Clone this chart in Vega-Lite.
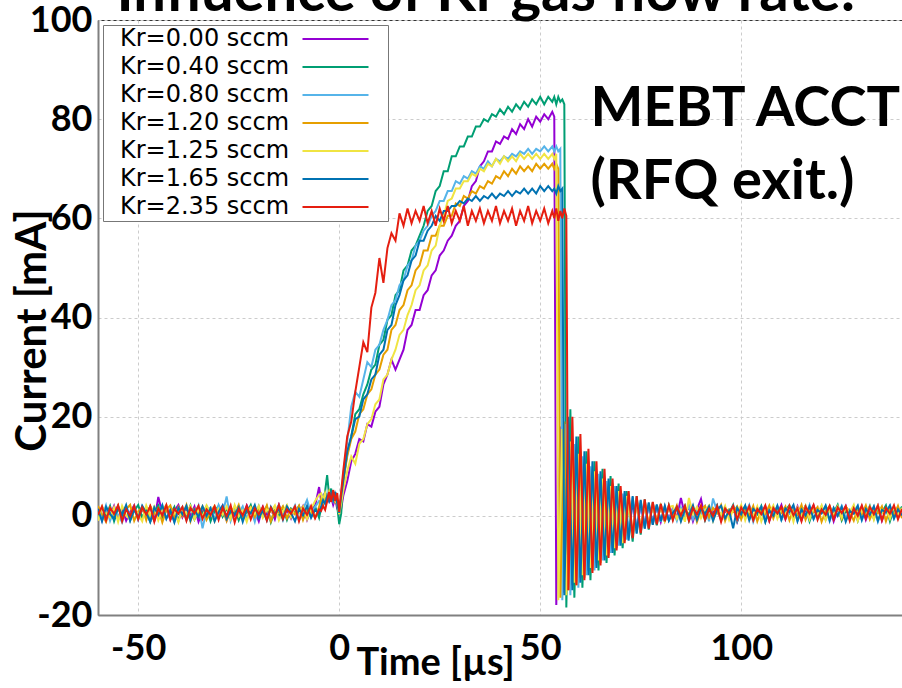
{
"$schema":"https://vega.github.io/schema/vega-lite/v6.json",
"width":804,"height":595,
"autosize":{"type":"none"},
"padding":{"left":98,"top":20,"right":0,"bottom":73},
"background":"white",
"config":{"view":{"stroke":"#333","strokeWidth":1}},
"layer":[
{"data":{"values":[
{"t":-60,"a":1.8,"b":-0.6,"c":0.9,"d":2.0,"e":-1.0,"f":1.4,"g":0.2},
{"t":-59,"a":-0.9,"b":1.7,"c":-0.4,"d":0.3,"e":1.9,"f":-1.1,"g":1.9},
{"t":-58,"a":1.2,"b":0.1,"c":2.1,"d":-1.2,"e":0.6,"f":1.8,"g":-0.9},
{"t":-57,"a":0.0,"b":2.0,"c":-1.0,"d":1.6,"e":-0.3,"f":0.4,"g":1.6},
{"t":-56,"a":2.0,"b":-1.1,"c":1.3,"d":0.2,"e":1.7,"f":-0.7,"g":0.4},
{"t":-55,"a":-0.5,"b":1.4,"c":0.2,"d":2.1,"e":-1.2,"f":1.9,"g":2.1},
{"t":-54,"a":1.5,"b":0.4,"c":-1.3,"d":-0.6,"e":2.0,"f":0.1,"g":-1.1},
{"t":-53,"a":-1.0,"b":1.9,"c":1.7,"d":1.3,"e":0.1,"f":2.2,"g":1.3},
{"t":-52,"a":0.8,"b":-0.9,"c":0.0,"d":2.2,"e":-0.8,"f":-1.0,"g":0.0},
{"t":-51,"a":2.1,"b":1.0,"c":1.9,"d":-1.0,"e":1.5,"f":1.3,"g":2.0},
{"t":-50,"a":-0.7,"b":2.2,"c":-0.8,"d":0.9,"e":0.3,"f":-0.4,"g":-0.7},
{"t":-49,"a":1.3,"b":-0.4,"c":2.0,"d":1.7,"e":-1.1,"f":2.0,"g":1.7},
{"t":-48,"a":0.2,"b":1.6,"c":0.5,"d":-0.9,"e":2.1,"f":0.6,"g":0.3},
{"t":-47,"a":1.9,"b":-1.2,"c":-1.1,"d":2.0,"e":0.0,"f":-1.2,"g":1.9},
{"t":-46,"a":-1.1,"b":0.8,"c":1.6,"d":0.4,"e":1.8,"f":1.7,"g":-1.2},
{"t":-45,"a":3.8,"b":2.1,"c":0.1,"d":1.5,"e":-0.9,"f":0.2,"g":1.5},
{"t":-44,"a":0.6,"b":-0.8,"c":2.2,"d":-1.3,"e":1.2,"f":2.1,"g":0.1},
{"t":-43,"a":1.6,"b":1.3,"c":-0.6,"d":1.2,"e":2.2,"f":-0.6,"g":2.2},
{"t":-42,"a":-0.8,"b":0.3,"c":1.4,"d":2.1,"e":-0.5,"f":1.1,"g":-0.8},
{"t":-41,"a":1.0,"b":1.8,"c":-1.2,"d":-0.4,"e":1.0,"f":-1.3,"g":1.4},
{"t":-40,"a":2.2,"b":-1.0,"c":0.7,"d":1.8,"e":-1.3,"f":1.6,"g":0.4},
{"t":-39,"a":-0.3,"b":1.5,"c":1.8,"d":0.0,"e":1.6,"f":0.3,"g":1.8},
{"t":-38,"a":1.4,"b":0.0,"c":-0.9,"d":2.2,"e":0.4,"f":2.0,"g":-1.0},
{"t":-37,"a":0.1,"b":2.1,"c":1.1,"d":-1.1,"e":2.0,"f":-0.9,"g":1.6},
{"t":-36,"a":1.9,"b":-0.7,"c":0.3,"d":1.4,"e":-0.7,"f":1.2,"g":0.5},
{"t":-35,"a":-1.2,"b":1.2,"c":2.1,"d":0.6,"e":1.3,"f":-0.2,"g":2.0},
{"t":-34,"a":0.9,"b":0.5,"c":-2.5,"d":1.9,"e":-0.2,"f":1.9,"g":-0.6},
{"t":-33,"a":1.7,"b":1.9,"c":1.0,"d":-0.8,"e":2.1,"f":0.0,"g":1.3},
{"t":-32,"a":-0.6,"b":-1.1,"c":1.7,"d":0.8,"e":0.7,"f":1.5,"g":0.2},
{"t":-31,"a":1.1,"b":1.0,"c":-0.7,"d":2.0,"e":-1.1,"f":-1.1,"g":1.9},
{"t":-30,"a":0.4,"b":2.0,"c":2.2,"d":-0.3,"e":1.4,"f":0.8,"g":-0.8},
{"t":-29,"a":2.0,"b":-0.2,"c":0.4,"d":1.3,"e":0.2,"f":2.1,"g":1.7},
{"t":-28,"a":-0.9,"b":1.4,"c":3.9,"d":-1.0,"e":1.9,"f":-0.6,"g":0.0},
{"t":-27,"a":1.3,"b":0.2,"c":-1.0,"d":1.7,"e":-0.6,"f":1.0,"g":2.1},
{"t":-26,"a":0.0,"b":1.8,"c":1.2,"d":0.5,"e":2.2,"f":0.3,"g":-1.3},
{"t":-25,"a":1.6,"b":-0.9,"c":0.6,"d":2.2,"e":-0.1,"f":1.7,"g":1.4},
{"t":-24,"a":-0.4,"b":1.1,"c":1.9,"d":-0.7,"e":1.1,"f":-1.2,"g":0.1},
{"t":-23,"a":2.1,"b":0.6,"c":-0.5,"d":1.0,"e":-1.2,"f":1.3,"g":2.0},
{"t":-22,"a":0.5,"b":2.2,"c":1.4,"d":1.8,"e":1.6,"f":0.5,"g":-0.7},
{"t":-21,"a":1.0,"b":-0.5,"c":-1.2,"d":-0.2,"e":0.4,"f":2.2,"g":1.5},
{"t":-20,"a":-1.1,"b":1.3,"c":2.0,"d":1.5,"e":2.0,"f":-0.5,"g":0.3},
{"t":-19,"a":1.8,"b":0.4,"c":0.2,"d":0.2,"e":-0.4,"f":1.1,"g":1.8},
{"t":-18,"a":0.3,"b":1.9,"c":1.6,"d":2.1,"e":1.3,"f":-0.9,"g":-0.9},
{"t":-17,"a":1.5,"b":-1.3,"c":-0.8,"d":-1.1,"e":0.8,"f":1.8,"g":1.6},
{"t":-16,"a":-0.7,"b":1.0,"c":1.1,"d":1.2,"e":2.1,"f":0.2,"g":0.0},
{"t":-15,"a":2.2,"b":0.0,"c":2.2,"d":0.6,"e":-0.9,"f":1.5,"g":2.2},
{"t":-14,"a":0.0,"b":1.7,"c":-0.3,"d":1.9,"e":1.0,"f":-0.8,"g":-0.6},
{"t":-13,"a":1.2,"b":-0.8,"c":1.5,"d":-0.5,"e":2.2,"f":1.9,"g":1.3},
{"t":-12,"a":-0.5,"b":1.5,"c":0.4,"d":1.3,"e":-0.3,"f":0.6,"g":0.4},
{"t":-11,"a":1.7,"b":0.8,"c":2.1,"d":0.3,"e":1.7,"f":-1.1,"g":1.9},
{"t":-10,"a":0.6,"b":2.0,"c":-0.9,"d":2.0,"e":0.5,"f":1.4,"g":-1.1},
{"t":-9,"a":2.0,"b":-0.6,"c":1.3,"d":-0.8,"e":1.9,"f":0.1,"g":1.5},
{"t":-8,"a":-0.8,"b":1.2,"c":3.2,"d":1.6,"e":-0.7,"f":2.0,"g":0.2},
{"t":-7,"a":1.4,"b":0.3,"c":0.5,"d":0.9,"e":1.4,"f":-0.4,"g":2.0},
{"t":-6,"a":2.0,"b":1.9,"c":1.8,"d":-0.4,"e":3.0,"f":1.2,"g":-0.5},
{"t":-5,"a":5.8,"b":-0.4,"c":3.0,"d":1.8,"e":4.2,"f":0.5,"g":1.3},
{"t":-4.5,"a":3.0,"b":1.5,"c":2.8,"d":3.5,"e":4.5,"f":1.8,"g":1.0},
{"t":-4,"a":4.0,"b":2.5,"c":4.0,"d":2.5,"e":3.0,"f":3.2,"g":2.0},
{"t":-3.5,"a":2.5,"b":5.0,"c":3.0,"d":4.5,"e":4.6,"f":2.4,"g":1.2},
{"t":-3,"a":4.5,"b":8.2,"c":4.5,"d":3.2,"e":3.3,"f":4.0,"g":3.0},
{"t":-2.5,"a":3.0,"b":4.0,"c":3.5,"d":4.8,"e":4.8,"f":3.0,"g":4.8},
{"t":-2,"a":3.8,"b":5.5,"c":4.2,"d":3.5,"e":3.5,"f":4.6,"g":2.8},
{"t":-1.5,"a":2.2,"b":3.0,"c":3.0,"d":4.2,"e":4.4,"f":3.2,"g":5.2},
{"t":-1,"a":3.5,"b":4.8,"c":4.5,"d":2.8,"e":3.0,"f":4.8,"g":3.0},
{"t":-0.5,"a":1.5,"b":2.0,"c":3.0,"d":3.5,"e":2.5,"f":2.5,"g":4.6},
{"t":0,"a":0.5,"b":-1.7,"c":1.0,"d":0.8,"e":0.3,"f":0.6,"g":0.8},
{"t":0.5,"a":1.5,"b":0.5,"c":4.5,"d":3.5,"e":2.5,"f":4.0,"g":5.0},
{"t":1,"a":4,"b":7,"c":8,"d":7,"e":5,"f":7,"g":9},
{"t":2,"a":7,"b":12.5,"c":15,"d":12,"e":9,"f":13,"g":16},
{"t":3,"a":11,"b":16,"c":22,"d":15.5,"e":12,"f":16,"g":19},
{"t":4,"a":12.5,"b":20.5,"c":25,"d":17,"e":10.5,"f":19.5,"g":25},
{"t":5,"a":15.5,"b":21.5,"c":24,"d":20.5,"e":14.5,"f":20,"g":30},
{"t":6,"a":15,"b":24.5,"c":27.5,"d":21.5,"e":15.5,"f":23.5,"g":35},
{"t":7,"a":18.5,"b":26.5,"c":31,"d":24.5,"e":18.5,"f":24.5,"g":33},
{"t":8,"a":18,"b":29.5,"c":30,"d":25.5,"e":19.5,"f":27.5,"g":42},
{"t":9,"a":21,"b":30.5,"c":33.5,"d":28.5,"e":22.5,"f":28.5,"g":45},
{"t":10,"a":22,"b":34.5,"c":34.5,"d":29.5,"e":23.5,"f":32.5,"g":52},
{"t":11,"a":26.5,"b":35.5,"c":37.5,"d":32.5,"e":27.5,"f":33.5,"g":47},
{"t":12,"a":28.5,"b":39.5,"c":39.5,"d":33.5,"e":28.5,"f":37.5,"g":54},
{"t":13,"a":31.5,"b":40.5,"c":42.5,"d":37.5,"e":31.5,"f":38.5,"g":57},
{"t":14,"a":29.5,"b":44.5,"c":43.5,"d":38.5,"e":33.5,"f":42.5,"g":55.5},
{"t":15,"a":31.5,"b":45.5,"c":46.5,"d":41.5,"e":36.5,"f":44.5,"g":61},
{"t":16,"a":33.5,"b":49.5,"c":47.5,"d":42.5,"e":37.5,"f":47.5,"g":58.5},
{"t":17,"a":37.5,"b":50.5,"c":50.5,"d":45.5,"e":40.5,"f":48.5,"g":62},
{"t":18,"a":38.5,"b":53.5,"c":51.5,"d":46.5,"e":42.5,"f":51.5,"g":59},
{"t":19,"a":41.5,"b":54.5,"c":54.5,"d":49.5,"e":45.5,"f":52.5,"g":61.5},
{"t":20,"a":41.5,"b":56.5,"c":55.5,"d":50.5,"e":46.5,"f":55.5,"g":59.5},
{"t":21,"a":44.5,"b":58.5,"c":57.5,"d":53.5,"e":49.5,"f":55.5,"g":62.5},
{"t":22,"a":45.5,"b":61.5,"c":58.5,"d":53.5,"e":50.5,"f":57.5,"g":59},
{"t":23,"a":48.5,"b":62.5,"c":60.5,"d":56.5,"e":53.5,"f":58.5,"g":61.5},
{"t":24,"a":49.5,"b":65.5,"c":61.5,"d":56.5,"e":54.5,"f":60.5,"g":58.5},
{"t":25,"a":52.5,"b":66.5,"c":63.5,"d":58.5,"e":58.5,"f":59.5,"g":62},
{"t":26,"a":53.5,"b":69.5,"c":63.5,"d":58.5,"e":60.5,"f":61.5,"g":59.5},
{"t":27,"a":55.5,"b":69.5,"c":65.5,"d":60.5,"e":63.5,"f":61.5,"g":62.5},
{"t":28,"a":56.5,"b":72.5,"c":65.5,"d":60.5,"e":64,"f":62.5,"g":59},
{"t":29,"a":58.5,"b":72.5,"c":67.5,"d":63,"e":66,"f":62.5,"g":61.5},
{"t":30,"a":59.5,"b":74.5,"c":67,"d":62.5,"e":66,"f":63.5,"g":59.5},
{"t":31,"a":62.5,"b":74.5,"c":68.5,"d":64.5,"e":67.5,"f":63,"g":62.5},
{"t":32,"a":63.5,"b":76.5,"c":68,"d":64,"e":67.5,"f":64,"g":58.5},
{"t":33,"a":66.5,"b":76.5,"c":69.5,"d":65.5,"e":69,"f":63.5,"g":61.5},
{"t":34,"a":67.5,"b":78.5,"c":69,"d":65,"e":68.5,"f":64.5,"g":59.5},
{"t":35,"a":70.5,"b":78.5,"c":70.5,"d":66.5,"e":70,"f":63.5,"g":62},
{"t":36,"a":71.5,"b":80,"c":70,"d":66,"e":69.5,"f":64.5,"g":59},
{"t":37,"a":73.5,"b":79.5,"c":71.5,"d":67.5,"e":71,"f":64,"g":61.5},
{"t":38,"a":73.5,"b":81,"c":70.5,"d":67,"e":70.5,"f":65,"g":59.5},
{"t":39,"a":75.5,"b":80.5,"c":72,"d":68.5,"e":72,"f":64,"g":62.5},
{"t":40,"a":75,"b":82,"c":71.5,"d":68,"e":71,"f":65,"g":59},
{"t":41,"a":76.5,"b":81,"c":72.5,"d":69.5,"e":72.5,"f":64.5,"g":61.5},
{"t":42,"a":76,"b":82.5,"c":72,"d":68.5,"e":71.5,"f":65.5,"g":59.5},
{"t":43,"a":78,"b":81.5,"c":73,"d":70,"e":72.5,"f":64.5,"g":62},
{"t":44,"a":77,"b":83,"c":72.5,"d":69,"e":71.5,"f":65.5,"g":58.5},
{"t":45,"a":79,"b":82,"c":73.5,"d":70.5,"e":73,"f":65,"g":61.5},
{"t":46,"a":78,"b":83.5,"c":73,"d":69.5,"e":72,"f":66,"g":59.5},
{"t":47,"a":80,"b":82.5,"c":74,"d":70.5,"e":73,"f":65,"g":62.5},
{"t":48,"a":78.5,"b":84,"c":73,"d":69.5,"e":72,"f":66,"g":59},
{"t":49,"a":80.5,"b":83,"c":74,"d":71,"e":73,"f":65,"g":61.5},
{"t":50,"a":79.5,"b":84.5,"c":73.5,"d":70,"e":72,"f":66.5,"g":59.5},
{"t":51,"a":81,"b":83,"c":74.5,"d":71,"e":73,"f":65.5,"g":62},
{"t":52,"a":80,"b":84.5,"c":73.5,"d":70,"e":72,"f":66.5,"g":59},
{"t":53,"a":81.5,"b":83.5,"c":74.5,"d":71,"e":73,"f":65.5,"g":61.5},
{"t":53.5,"a":80.5,"b":84.5,"c":73.5,"d":70,"e":72,"f":66,"g":60},
{"t":54,"a":-18,"b":83,"c":74.5,"d":71,"e":73,"f":65,"g":62},
{"t":54.5,"b":84.5,"c":73.5,"d":70,"e":-17,"f":66.5,"g":59.5},
{"t":55,"a":18,"b":83.5,"c":74,"d":-16.5,"f":65.5,"g":61.5},
{"t":55.5,"b":84,"c":-17,"e":17.5,"f":66,"g":60},
{"t":56,"a":-15.5,"b":83,"d":19,"f":-16,"g":62},
{"t":56.5,"b":-18.5,"c":18.5,"e":-16,"g":60.5},
{"t":57,"a":14.5,"d":-15,"f":20,"g":-15},
{"t":57.5,"b":21.5,"c":-16,"e":15},
{"t":58,"a":-14,"d":15.5,"f":-15,"g":20},
{"t":58.5,"b":-16.5,"c":14.5,"e":-13.5},
{"t":59,"a":12,"d":-14,"f":16,"g":-14},
{"t":59.5,"b":16,"c":-14.5,"e":12.5},
{"t":60,"a":-12.5,"d":13,"f":-13.5,"g":16.5},
{"t":60.5,"b":-14.5,"c":12,"e":-12},
{"t":61,"a":10,"d":-12.5,"f":13,"g":-13},
{"t":61.5,"b":13,"c":-12,"e":10.5},
{"t":62,"a":-11,"d":11,"f":-12,"g":13.5},
{"t":62.5,"b":-13,"c":10,"e":-10.5},
{"t":63,"a":8.5,"d":-11,"f":11,"g":-11.5},
{"t":63.5,"b":11,"c":-11,"e":9},
{"t":64,"a":-9.5,"d":9,"f":-10.5,"g":11},
{"t":64.5,"b":-11,"c":8.5,"e":-9},
{"t":65,"a":7,"d":-9.5,"f":9,"g":-10},
{"t":65.5,"b":9.5,"c":-9,"e":7.5},
{"t":66,"a":-8,"d":7.5,"f":-9,"g":9.5},
{"t":66.5,"b":-9.5,"c":7,"e":-8},
{"t":67,"a":6,"d":-8,"f":7.5,"g":-8.5},
{"t":67.5,"b":8,"c":-7.5,"e":6},
{"t":68,"a":-6.5,"d":6.5,"f":-7.5,"g":7.5},
{"t":68.5,"b":-8,"c":6,"e":-6.5},
{"t":69,"a":4.5,"d":-6.5,"f":6,"g":-7},
{"t":69.5,"b":6.5,"c":-6,"e":5},
{"t":70,"a":-5,"d":5,"f":-6,"g":6},
{"t":70.5,"b":-6.5,"c":4.5,"e":-5.5},
{"t":71,"a":3.5,"d":-5,"f":5,"g":-5.5},
{"t":71.5,"b":5,"c":-4.8,"e":4},
{"t":72,"a":-4,"d":4,"f":-5,"g":5},
{"t":73,"a":3,"b":-5.2,"c":3.8,"d":-3.8,"e":-4,"f":4,"g":-4.5},
{"t":74,"a":-3,"b":4,"c":-3.5,"d":3.2,"e":3.2,"f":-3.6,"g":4},
{"t":75,"a":2.5,"b":-3.8,"c":3,"d":-2.8,"e":-3,"f":3.2,"g":-3.5},
{"t":76,"a":-2,"b":3.3,"c":-2.5,"d":2.6,"e":2.8,"f":-2.6,"g":3.3},
{"t":77,"a":2.2,"b":-2.8,"c":2.5,"d":-1.8,"e":-2,"f":2.7,"g":-2.6},
{"t":78,"a":-1.5,"b":2.7,"c":-1.8,"d":2.3,"e":2.4,"f":-1.8,"g":2.8},
{"t":79,"a":2,"b":-1.9,"c":2.2,"d":-1.2,"e":-1.3,"f":2.3,"g":-1.7},
{"t":80,"a":-1.2,"b":2.4,"c":-1.2,"d":2,"e":2.1,"f":-1.1,"g":2.4},
{"t":81,"a":1.8,"b":-1.2,"c":1.9,"d":-1.0,"e":-0.9,"f":2,"g":-1.1},
{"t":82,"a":-0.8,"b":2.1,"c":-0.9,"d":1.9,"e":1.8,"f":-1.0,"g":2.1},
{"t":83,"a":1.6,"b":-0.7,"c":1.2,"d":0.0,"e":2.0,"f":0.6,"g":-0.9},
{"t":84,"a":-0.4,"b":1.8,"c":-1.0,"d":2.1,"e":-0.6,"f":1.7,"g":1.8},
{"t":85,"a":3.6,"b":0.2,"c":1.7,"d":-0.9,"e":1.2,"f":-1.1,"g":0.1},
{"t":86,"a":0.2,"b":2.0,"c":0.0,"d":1.4,"e":-1.2,"f":1.3,"g":2.0},
{"t":87,"a":1.9,"b":-1.0,"c":2.1,"d":0.3,"e":3.6,"f":0.0,"g":-1.0},
{"t":88,"a":-1.1,"b":1.2,"c":-0.7,"d":1.9,"e":0.4,"f":2.1,"g":1.6},
{"t":89,"a":1.3,"b":0.4,"c":1.3,"d":-1.2,"e":1.8,"f":-0.8,"g":0.3},
{"t":90,"a":3.4,"b":1.9,"c":0.4,"d":1.1,"e":-0.5,"f":1.5,"g":2.1},
{"t":91,"a":-0.6,"b":-0.9,"c":1.9,"d":2.0,"e":1.1,"f":0.4,"g":-0.8},
{"t":92,"a":1.7,"b":1.4,"c":-1.1,"d":-0.3,"e":2.1,"f":1.9,"g":1.4},
{"t":93,"a":0.5,"b":0.0,"c":3.5,"d":1.6,"e":-1.0,"f":-1.0,"g":0.0},
{"t":94,"a":2.1,"b":2.1,"c":0.9,"d":0.5,"e":1.5,"f":1.2,"g":1.9},
{"t":95,"a":-0.9,"b":-0.5,"c":-0.6,"d":2.2,"e":0.2,"f":2.0,"g":-1.2},
{"t":96,"a":1.0,"b":1.6,"c":1.6,"d":-1.0,"e":2.0,"f":-0.5,"g":1.5},
{"t":97,"a":0.3,"b":0.6,"c":0.1,"d":1.3,"e":-0.8,"f":1.0,"g":0.4},
{"t":98,"a":1.8,"b":2.2,"c":2.0,"d":0.8,"e":1.3,"f":-2.5,"g":2.0},
{"t":99,"a":-1.2,"b":-1.1,"c":-0.9,"d":1.9,"e":0.5,"f":1.6,"g":-0.7},
{"t":100,"a":1.4,"b":1.0,"c":1.4,"d":-0.7,"e":2.2,"f":0.3,"g":1.7},
{"t":101,"a":0.0,"b":1.9,"c":0.5,"d":1.5,"e":-0.9,"f":2.1,"g":0.2},
{"t":102,"a":2.0,"b":-0.3,"c":2.2,"d":0.1,"e":1.6,"f":-0.9,"g":1.9},
{"t":103,"a":-0.5,"b":1.3,"c":-1.2,"d":2.0,"e":0.0,"f":1.4,"g":-0.9},
{"t":104,"a":1.5,"b":0.3,"c":1.0,"d":-1.1,"e":1.9,"f":0.6,"g":1.4},
{"t":105,"a":0.7,"b":2.0,"c":1.8,"d":1.2,"e":-1.1,"f":1.8,"g":0.3},
{"t":106,"a":1.9,"b":-1.2,"c":-0.4,"d":0.4,"e":1.2,"f":-1.2,"g":2.1},
{"t":107,"a":-1.0,"b":1.5,"c":1.5,"d":2.1,"e":0.6,"f":1.1,"g":-1.0},
{"t":108,"a":1.2,"b":0.1,"c":0.2,"d":-0.5,"e":2.1,"f":0.0,"g":1.6},
{"t":109,"a":0.4,"b":1.8,"c":2.1,"d":1.7,"e":-0.6,"f":2.0,"g":0.5},
{"t":110,"a":2.2,"b":-0.8,"c":-0.8,"d":0.6,"e":1.4,"f":-0.7,"g":1.8},
{"t":111,"a":-0.7,"b":1.1,"c":1.2,"d":1.9,"e":0.3,"f":1.5,"g":-0.6},
{"t":112,"a":1.6,"b":2.1,"c":0.4,"d":-0.9,"e":1.9,"f":0.8,"g":2.0},
{"t":113,"a":0.1,"b":-0.4,"c":1.9,"d":1.3,"e":-1.2,"f":2.2,"g":0.1},
{"t":114,"a":1.9,"b":1.4,"c":-1.0,"d":0.2,"e":1.7,"f":-1.1,"g":1.5},
{"t":115,"a":-0.9,"b":0.5,"c":1.4,"d":2.2,"e":0.1,"f":1.3,"g":-1.1},
{"t":116,"a":1.1,"b":2.0,"c":0.0,"d":-0.8,"e":2.0,"f":0.1,"g":1.9},
{"t":117,"a":0.6,"b":-1.1,"c":2.2,"d":1.4,"e":-0.7,"f":1.9,"g":0.4},
{"t":118,"a":2.1,"b":1.2,"c":-0.7,"d":0.7,"e":1.5,"f":-0.6,"g":2.2},
{"t":119,"a":-0.3,"b":0.0,"c":1.1,"d":1.8,"e":0.4,"f":1.2,"g":-0.8},
{"t":120,"a":1.5,"b":1.9,"c":0.6,"d":-1.2,"e":2.1,"f":0.5,"g":1.3},
{"t":121,"a":0.0,"b":-0.7,"c":1.9,"d":1.0,"e":-0.9,"f":2.1,"g":0.2},
{"t":122,"a":1.8,"b":1.5,"c":-1.1,"d":2.0,"e":1.2,"f":-0.9,"g":2.0},
{"t":123,"a":-1.1,"b":0.6,"c":1.5,"d":0.0,"e":0.2,"f":1.6,"g":-0.7},
{"t":124,"a":1.3,"b":2.2,"c":0.3,"d":1.5,"e":1.9,"f":0.0,"g":1.7},
{"t":125,"a":0.5,"b":-0.9,"c":2.0,"d":-0.6,"e":-0.4,"f":1.8,"g":0.6},
{"t":126,"a":2.0,"b":1.0,"c":-0.5,"d":1.9,"e":1.6,"f":-1.2,"g":1.9},
{"t":127,"a":-0.6,"b":0.3,"c":1.3,"d":0.8,"e":0.6,"f":1.0,"g":-1.0},
{"t":128,"a":1.7,"b":1.8,"c":0.8,"d":-1.0,"e":2.2,"f":0.4,"g":1.5},
{"t":129,"a":0.2,"b":-1.0,"c":2.1,"d":1.6,"e":-1.0,"f":2.0,"g":0.0},
{"t":130,"a":1.9,"b":1.6,"c":-0.9,"d":0.3,"e":1.3,"f":-0.8,"g":2.1},
{"t":131,"a":-0.8,"b":0.2,"c":1.6,"d":2.1,"e":0.0,"f":1.4,"g":-0.5},
{"t":132,"a":1.4,"b":2.0,"c":0.1,"d":-0.7,"e":1.8,"f":0.2,"g":1.8},
{"t":133,"a":0.3,"b":-0.6,"c":1.8,"d":1.2,"e":-0.8,"f":1.9,"g":0.3},
{"t":134,"a":2.1,"b":1.3,"c":-1.2,"d":0.5,"e":2.1,"f":-1.0,"g":2.0},
{"t":135,"a":-1.0,"b":0.7,"c":1.2,"d":1.9,"e":0.5,"f":1.2,"g":-0.9},
{"t":136,"a":1.2,"b":2.1,"c":0.5,"d":-1.1,"e":1.4,"f":0.7,"g":1.6},
{"t":137,"a":0.6,"b":-1.1,"c":2.0,"d":1.4,"e":-0.6,"f":2.1,"g":0.4},
{"t":138,"a":1.8,"b":1.4,"c":-0.6,"d":0.1,"e":1.9,"f":-0.5,"g":2.1},
{"t":139,"a":-0.4,"b":0.4,"c":1.4,"d":2.0,"e":0.3,"f":1.3,"g":-0.7},
{"t":140,"a":1.5,"b":1.9,"c":0.2,"d":-0.5,"e":1.6,"f":0.1,"g":1.4}
]},
"transform":[
{"fold":["a","b","c","d","e","f","g"],"as":["k","v"]},
{"filter":"isValid(datum.v)"},
{"lookup":"k","from":{"data":{"values":[
{"k":"a","name":"Kr=0.00 sccm"},{"k":"b","name":"Kr=0.40 sccm"},{"k":"c","name":"Kr=0.80 sccm"},{"k":"d","name":"Kr=1.20 sccm"},{"k":"e","name":"Kr=1.25 sccm"},{"k":"f","name":"Kr=1.65 sccm"},{"k":"g","name":"Kr=2.35 sccm"}]},"key":"k","fields":["name"]}}
],
"mark":{"type":"line","strokeWidth":2,"clip":true},
"encoding":{
"x":{"field":"t","type":"quantitative","scale":{"domain":[-60,140],"nice":false,"zero":false},
 "axis":{"values":[-50,0,50,100],"labelExpr":"'' + datum.value","title":"Time [µs]","titleFont":"Lato","titleFontSize":38,"titleFontWeight":"bold","titleColor":"black","titleX":337,"titleY":48,"titleAlign":"center","titleBaseline":"middle","labelFont":"Lato","labelFontSize":36,"labelFontWeight":"bold","labelColor":"black","labelPadding":16,"labelFlush":false,"labelOverlap":false,"ticks":false,"domainColor":"#808080","domainWidth":2,"grid":true,"gridColor":"#cccccc","gridDash":[3,3]}},
"y":{"field":"v","type":"quantitative","scale":{"domain":[-20,100],"nice":false,"zero":false},
 "axis":{"values":[-20,0,20,40,60,80,100],"labelExpr":"'' + datum.value","title":"Current [mA]","titleFont":"Lato","titleFontSize":42,"titleFontWeight":"bold","titleColor":"black","titleX":-66,"titleY":310,"titleAlign":"center","titleBaseline":"middle","labelFont":"Lato","labelFontSize":36,"labelFontWeight":"bold","labelColor":"black","labelPadding":6,"labelFlush":false,"labelOverlap":false,"ticks":false,"domainColor":"#808080","domainWidth":2,"grid":true,"gridColor":"#cccccc","gridDash":[3,3]}},
"color":{"field":"name","type":"nominal",
 "scale":{"domain":["Kr=0.00 sccm","Kr=0.40 sccm","Kr=0.80 sccm","Kr=1.20 sccm","Kr=1.25 sccm","Kr=1.65 sccm","Kr=2.35 sccm"],"range":["#9400d3","#009e73","#56b4e9","#e69f00","#f0e442","#0072b2","#e51e10"]},
 "legend":{"title":null,"orient":"none","legendX":5,"legendY":5,"labelFont":"DejaVu Sans","labelFontSize":24,"labelColor":"black","labelLimit":400,"symbolType":"M-3,0H3M4.2,0H4.2","symbolSize":484,"symbolStrokeWidth":2,"symbolOffset":218.5,"labelOffset":-227.5,"rowPadding":4,"padding":2,"strokeColor":"#777777","fillColor":"white","cornerRadius":0}}
}},
{"data":{"values":[{}]},"mark":{"type":"text","text":"Influence of Kr gas flow rate:","font":"Lato","fontWeight":"bold","fontSize":58,"align":"center","baseline":"alphabetic","color":"black","clip":false},
 "encoding":{"x":{"datum":36.5,"type":"quantitative"},"y":{"datum":101.8,"type":"quantitative"}}},
{"data":{"values":[{}]},"mark":{"type":"text","text":"MEBT ACCT","font":"Lato","fontWeight":"bold","fontSize":56,"align":"left","baseline":"alphabetic","color":"black"},
 "encoding":{"x":{"datum":62.5,"type":"quantitative"},"y":{"datum":78.6,"type":"quantitative"}}},
{"data":{"values":[{}]},"mark":{"type":"text","text":"(RFQ exit.)","font":"Lato","fontWeight":"bold","fontSize":56,"align":"left","baseline":"alphabetic","color":"black"},
 "encoding":{"x":{"datum":62.5,"type":"quantitative"},"y":{"datum":64,"type":"quantitative"}}}
]
}
